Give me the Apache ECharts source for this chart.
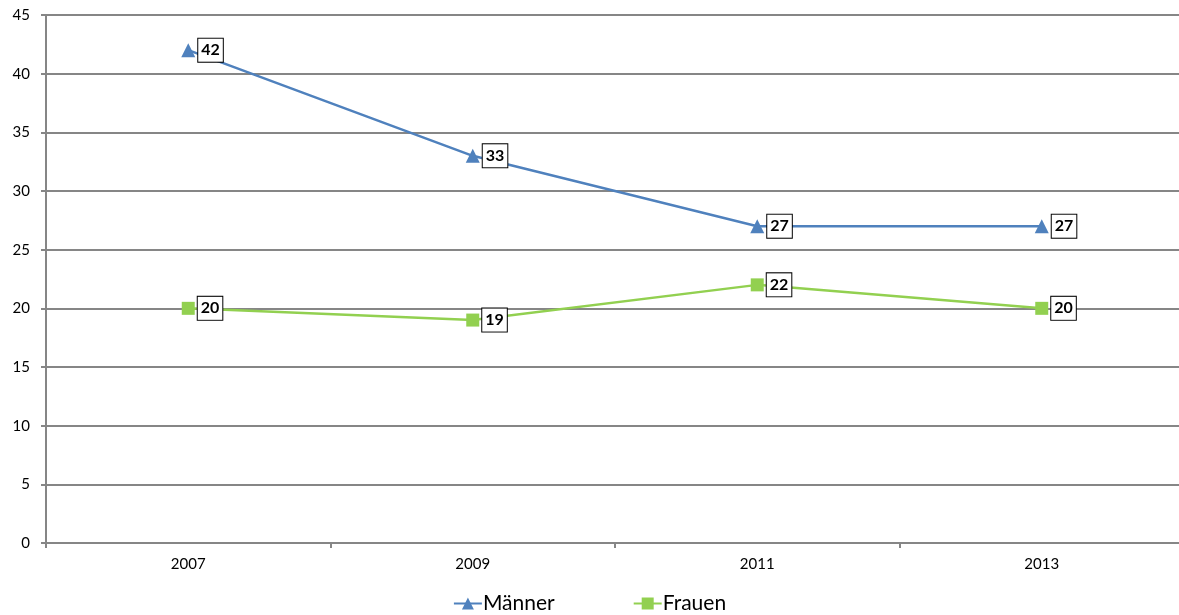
<!DOCTYPE html>
<html>
<head>
<meta charset="utf-8">
<script src="https://cdn.jsdelivr.net/npm/echarts@6/dist/echarts.min.js"></script>
<style>
html, body { margin: 0; padding: 0; background: #fff; }
#chart { width: 1179px; height: 615px; }
</style>
</head>
<body>
<div id="chart"></div>
<script>
// Jahre und Werte
const years = ['2007', '2009', '2011', '2013'];
const maenner = [42, 33, 27, 27];
const frauen = [20, 19, 22, 20];

const gridColor = '#868686';
const fontFam = 'Lato, "Open Sans", sans-serif';

const labelBox = {
    show: true,
    position: 'right',
    distance: 3,
    color: '#000',
    fontWeight: 'bold',
    fontSize: 16,
    fontFamily: fontFam,
    backgroundColor: '#fff',
    borderColor: '#000',
    borderWidth: 1,
    padding: [4, 3, 3, 3]
};

const chart = echarts.init(document.getElementById('chart'));
chart.setOption({
    animation: false,
    grid: { left: 46, top: 15, width: 1138, bottom: 72, outerBoundsMode: 'none' },
    legend: {
        bottom: -4,
        left: 'center',
        itemGap: 78,
        itemWidth: 28,
        itemHeight: 15,
        textStyle: { fontSize: 21, fontFamily: fontFam, color: '#000', padding: [0, 0, 0, -4] },
        data: ['Männer', 'Frauen']
    },
    xAxis: {
        type: 'category',
        data: years,
        boundaryGap: true,
        axisLine: { lineStyle: { color: gridColor, width: 2 } },
        axisTick: { show: true, length: 5, lineStyle: { color: gridColor, width: 2 } },
        axisLabel: { color: '#000', fontSize: 15, fontFamily: fontFam, margin: 14 }
    },
    yAxis: {
        type: 'value',
        min: 0,
        max: 45,
        interval: 5,
        axisLine: { show: true, lineStyle: { color: gridColor, width: 2 } },
        axisTick: { show: true, length: 5, lineStyle: { color: gridColor, width: 2 } },
        axisLabel: { color: '#000', fontSize: 15, fontFamily: fontFam, margin: 16 },
        splitLine: { lineStyle: { color: gridColor, width: 2 } }
    },
    series: [
        {
            name: 'Männer',
            type: 'line',
            data: maenner,
            symbol: 'triangle',
            symbolSize: 14,
            itemStyle: { color: '#4F81BD' },
            lineStyle: { color: '#4F81BD', width: 2.5 },
            label: labelBox
        },
        {
            name: 'Frauen',
            type: 'line',
            data: frauen,
            symbol: 'rect',
            symbolSize: 13,
            itemStyle: { color: '#92D050' },
            lineStyle: { color: '#92D050', width: 2.5 },
            label: labelBox
        }
    ]
});
</script>
</body>
</html>
